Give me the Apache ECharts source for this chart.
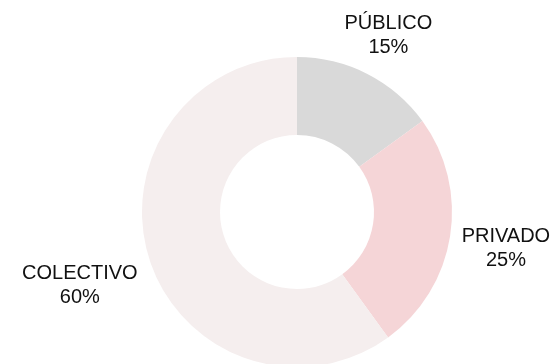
<!DOCTYPE html>
<html>
<head>
<meta charset="utf-8">
<script src="https://cdn.jsdelivr.net/npm/echarts@6/dist/echarts.min.js"></script>
<style>
  html, body { margin: 0; padding: 0; background: #ffffff; }
  #chart { width: 556px; height: 364px; }
</style>
</head>
<body>
<div id="chart"></div>
<script>
// Modal share of trips
const categories = ['PÚBLICO', 'PRIVADO', 'COLECTIVO'];
const shares = [15, 25, 60];
const sliceColors = ['#d9d9d9', '#f5d5d7', '#f5eeee'];

const center = [297, 212];
const innerR = 77;
const outerR = 155;
const labelGap = 1.6;
const labelWidthPad = 1.17;
const labelDrop = 3;

const total = shares.reduce((a, b) => a + b, 0);

// Mid angle of each slice, measured clockwise from 12 o'clock
function midAngle(i) {
  let before = 0;
  for (let k = 0; k < i; k++) before += shares[k];
  return ((before + shares[i] / 2) / total) * Math.PI * 2;
}

const chart = echarts.init(document.getElementById('chart'), null, { renderer: 'canvas' });

chart.setOption({
  animation: false,
  backgroundColor: '#ffffff',
  series: [{
    type: 'pie',
    center: center,
    radius: [innerR, outerR],
    startAngle: 90,
    clockwise: true,
    avoidLabelOverlap: false,
    data: categories.map((name, i) => ({
      name: name,
      value: shares[i],
      itemStyle: { color: sliceColors[i] }
    })),
    label: {
      show: true,
      position: 'outside',
      overflow: 'none',
      formatter: p => p.name + '\n' + p.value + '%',
      fontFamily: 'Liberation Sans, Arial, sans-serif',
      fontSize: 20,
      lineHeight: 24,
      color: '#111111',
      align: 'center'
    },
    labelLine: { show: false },
    emphasis: { disabled: true },
    // Place each label just outside the ring, centred on its slice's mid angle
    labelLayout: function (params) {
      const a = midAngle(params.dataIndex);
      const s = Math.sin(a), c = Math.cos(a);
      const w = params.labelRect.width * labelWidthPad, h = params.labelRect.height;
      const r = outerR + labelGap + Math.abs(s) * w / 2 + Math.abs(c) * h / 2;
      return {
        x: center[0] + r * s,
        y: center[1] - r * c + labelDrop,
        align: 'center',
        verticalAlign: 'middle'
      };
    }
  }]
});
</script>
</body>
</html>
